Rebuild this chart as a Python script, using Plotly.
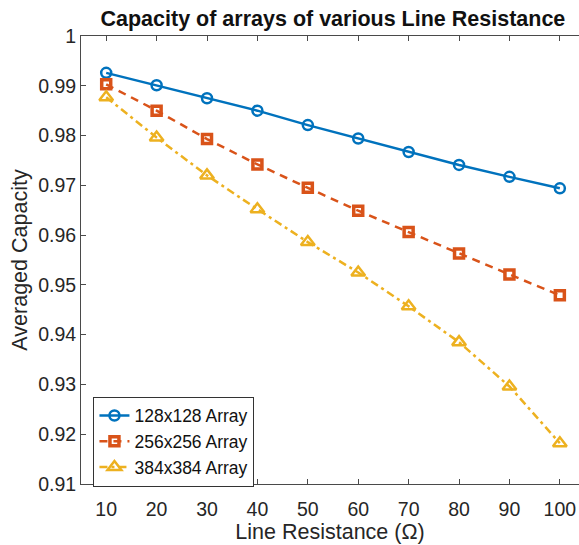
import plotly.graph_objects as go

# Line resistance (ohm) and averaged capacity for each array size
resistance = [10, 20, 30, 40, 50, 60, 70, 80, 90, 100]
cap_128 = [0.9926, 0.9901, 0.9875, 0.9850, 0.9821, 0.9794, 0.9767, 0.9741, 0.9717, 0.9694]
cap_256 = [0.9903, 0.9850, 0.9793, 0.9742, 0.9695, 0.9649, 0.9606, 0.9563, 0.9521, 0.9479]
cap_384 = [0.9877, 0.9796, 0.9720, 0.9652, 0.9586, 0.9525, 0.9457, 0.9385, 0.9296, 0.9182]

x_ticks = [10, 20, 30, 40, 50, 60, 70, 80, 90, 100]
y_ticks = [0.91, 0.92, 0.93, 0.94, 0.95, 0.96, 0.97, 0.98, 0.99, 1.0]
y_labels = ["0.91", "0.92", "0.93", "0.94", "0.95", "0.96", "0.97", "0.98", "0.99", "1"]

FONT = "Liberation Sans, Arial, sans-serif"
AXIS = "#4a4a4a"
TICK_SIZE = 19.5
LABEL_SIZE = 21.5
LEGEND_SIZE = 17.5

fig = go.Figure()
fig.add_trace(go.Scatter(
    x=resistance, y=cap_128, name="128x128 Array", mode="lines+markers",
    line=dict(color="#0072BD", width=2.5, dash="solid"),
    marker=dict(symbol="circle-open", size=10, line=dict(width=2.5, color="#0072BD")),
))
fig.add_trace(go.Scatter(
    x=resistance, y=cap_256, name="256x256 Array", mode="lines+markers",
    line=dict(color="#D95319", width=2.5, dash="8px,6px"),
    marker=dict(symbol="square-open", size=9, line=dict(width=3.5, color="#D95319")),
))
fig.add_trace(go.Scatter(
    x=resistance, y=cap_384, name="384x384 Array", mode="lines+markers",
    line=dict(color="#EDB120", width=2.5, dash="8px,4px,3px,4px"),
    marker=dict(symbol="triangle-up-open", size=12, line=dict(width=2.5, color="#EDB120")),
))

fig.update_layout(
    width=579, height=545,
    margin=dict(l=81, r=0, t=36, b=61),
    paper_bgcolor="white", plot_bgcolor="white",
    font=dict(family=FONT, size=TICK_SIZE, color="#262626"),
    title=dict(text="<b>Capacity of arrays of various Line Resistance</b>",
               x=0.575, xanchor="center", y=0.967, yanchor="middle",
               font=dict(family=FONT, size=LABEL_SIZE, color="#111111")),
    showlegend=True,
    legend=dict(x=0.025, y=0.195, xanchor="left", yanchor="top",
                bgcolor="white", bordercolor="#333333", borderwidth=1,
                font=dict(family=FONT, size=LEGEND_SIZE, color="#111111"),
                tracegroupgap=0, itemwidth=30),
)

fig.update_xaxes(
    range=[5, 103.8], tickvals=x_ticks, ticktext=[str(v) for v in x_ticks],
    showgrid=False, zeroline=False,
    showline=True, linecolor=AXIS, linewidth=1, mirror="ticks",
    ticks="inside", ticklen=5, tickcolor=AXIS, tickwidth=1,
    ticklabelstandoff=8,
    tickfont=dict(family=FONT, size=TICK_SIZE, color="#262626"),
    title=dict(text="Line Resistance (Ω)", standoff=4,
               font=dict(family=FONT, size=LABEL_SIZE, color="#262626")),
)
fig.update_yaxes(
    range=[0.91, 1.0], tickvals=y_ticks, ticktext=y_labels,
    showgrid=False, zeroline=False,
    showline=True, linecolor=AXIS, linewidth=1, mirror=False,
    ticks="inside", ticklen=5, tickcolor=AXIS, tickwidth=1,
    tickfont=dict(family=FONT, size=TICK_SIZE, color="#262626"),
    title=dict(text="Averaged Capacity", standoff=4,
               font=dict(family=FONT, size=LABEL_SIZE, color="#262626")),
)

fig.write_html("out.html")
